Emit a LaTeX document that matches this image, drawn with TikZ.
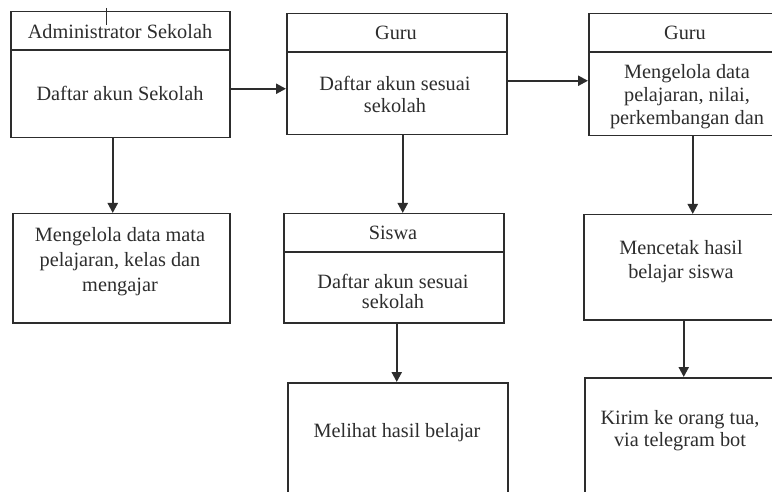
\documentclass[tikz,border=0pt]{standalone}
\usepackage{fontspec}
\setmainfont{Liberation Serif}
\usetikzlibrary{arrows.meta}
\definecolor{ln}{RGB}{45,45,45}
\definecolor{tx}{RGB}{45,45,45}
\begin{document}
\begin{tikzpicture}[x=1pt,y=-1pt,
  box/.style={draw=ln,line width=1.5pt,anchor=north west,inner sep=0pt,minimum width=#1},
  hdr/.style={draw=ln,line width=2pt},
  lbl/.style={text=tx,align=center,inner sep=0pt,font=\fontsize{20.3}{#1}\selectfont},
  lbl/.default=22,
  arr/.style={draw=ln,line width=2.2pt,-{Triangle[length=10pt,width=10pt]}}]
\useasboundingbox (0,0) rectangle (772,492);
\clip (0,0) rectangle (772,492);
% boxes
\node[box=219pt,minimum height=126pt] (admin) at (10,11) {};
\node[box=220pt,minimum height=121pt] (guruA) at (286,13) {};
\node[box=204pt,minimum height=122pt] (guruB) at (588,13) {};
\node[box=217pt,minimum height=109pt] (kelola) at (12,213) {};
\node[box=220pt,minimum height=109pt] (siswa) at (283,213) {};
\node[box=220pt,minimum height=118pt] (melihat) at (287,382) {};
\node[box=209pt,minimum height=105pt] (cetak) at (583,214) {};
\node[box=208pt,minimum height=123pt] (kirim) at (584,377) {};
% header dividers
\draw[hdr] (admin.west |- 0,50) -- (admin.east |- 0,50);
\draw[hdr] (guruA.west |- 0,52) -- (guruA.east |- 0,52);
\draw[hdr] (guruB.west |- 0,52) -- (guruB.east |- 0,52);
\draw[hdr] (siswa.west |- 0,252) -- (siswa.east |- 0,252);
% stray cursor mark
\coordinate (cur) at (106,8);
\draw[draw=ln,line width=1pt] (cur) -- ++(0,17);
% texts
\node[lbl] (tAh) at (120,32) {Administrator Sekolah};
\node[lbl] (tAb) at (120,93) {Daftar akun Sekolah};
\node[lbl] (tGh) at (396,33) {Guru};
\node[lbl=22] (tGb) at (395,94) {Daftar akun sesuai\\sekolah};
\node[lbl] (tG2h) at (685,33) {Guru};
\begin{scope}
\clip (588,52) rectangle (792,134.5);
\node[lbl=23] (tG2b) at (687,97) {Mengelola data\\pelajaran, nilai,\\perkembangan dan};
\end{scope}
\node[lbl=25] (tK) at (120,262) {Mengelola data mata\\pelajaran, kelas dan\\mengajar};
\node[lbl] (tSh) at (393,233) {Siswa};
\node[lbl=20] (tSb) at (393,291) {Daftar akun sesuai\\sekolah};
\node[lbl] (tM) at (397,433) {Melihat hasil belajar};
\node[lbl=24] (tC) at (681,262) {Mencetak hasil\\belajar siswa};
\node[lbl=22] (tKi) at (680,431) {Kirim ke orang tua,\\via telegram bot};
% connectors
\draw[arr] ([yshift=-14pt]admin.east) coordinate (a1) -- (a1 -| guruA.west);
\draw[arr] ([yshift=-6.5pt]guruA.east) coordinate (a2) -- (a2 -| guruB.west);
\draw[arr] ([xshift=-7.5pt]admin.south) coordinate (a3) -- (a3 |- kelola.north);
\draw[arr] ([xshift=6pt]guruA.south) coordinate (a4) -- (a4 |- siswa.north);
\draw[arr] ([xshift=3pt]siswa.south) coordinate (a5) -- (a5 |- melihat.north);
\draw[arr] ([xshift=2pt]guruB.south) coordinate (a6) -- (a6 |- cetak.north);
\draw[arr] ([xshift=-4.5pt]cetak.south) coordinate (a7) -- (a7 |- kirim.north);
\end{tikzpicture}
\end{document}
